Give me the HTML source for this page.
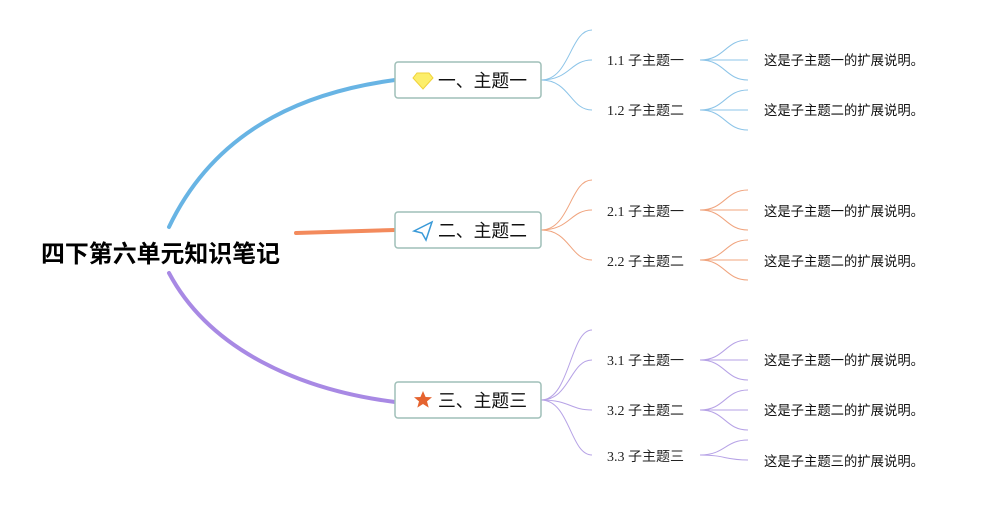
<!DOCTYPE html>
<html><head><meta charset="utf-8"><style>
body{margin:0;background:#fff;width:992px;height:500px;overflow:hidden}
text{font-family:"Liberation Sans","Noto Sans CJK SC",sans-serif}
.s{font-family:"Liberation Serif","Noto Sans CJK SC",serif;font-size:13.6px;fill:#222}
.d{font-size:13.6px;fill:#111}
.t{font-size:18px;fill:#111}
</style></head><body>
<svg width="992" height="500" xmlns="http://www.w3.org/2000/svg">
<g fill="none" stroke-linecap="round">
<path d="M169 227 C 220 120, 320 90, 395 80" stroke="#68b4e4" stroke-width="4"/>
<path d="M296 233 L395 230" stroke="#f38a5c" stroke-width="4"/>
<path d="M169 273 C 210 350, 300 390, 395 402" stroke="#a889e4" stroke-width="4"/>
</g>
<g fill="none" stroke="#8cc4e8" stroke-width="1">
<path d="M541 80 C 570 80, 570 30, 592 30"/><path d="M541 80 C 570 80, 570 60, 592 60"/><path d="M541 80 C 570 80, 570 110, 592 110"/>
<path d="M700 60 C 725 60, 725 40, 748 40"/><path d="M700 60 L748 60"/><path d="M700 60 C 725 60, 725 80, 748 80"/>
<path d="M700 110 C 725 110, 725 90, 748 90"/><path d="M700 110 L748 110"/><path d="M700 110 C 725 110, 725 130, 748 130"/>
</g>
<g fill="none" stroke="#f0a47e" stroke-width="1">
<path d="M541 230 C 570 230, 570 180, 592 180"/><path d="M541 230 C 570 230, 570 210, 592 210"/><path d="M541 230 C 570 230, 570 260, 592 260"/>
<path d="M700 210 C 725 210, 725 190, 748 190"/><path d="M700 210 L748 210"/><path d="M700 210 C 725 210, 725 230, 748 230"/>
<path d="M700 260 C 725 260, 725 240, 748 240"/><path d="M700 260 L748 260"/><path d="M700 260 C 725 260, 725 280, 748 280"/>
</g>
<g fill="none" stroke="#b6a2e6" stroke-width="1">
<path d="M541 400 C 570 400, 570 330, 592 330"/><path d="M541 400 C 570 400, 570 360, 592 360"/><path d="M541 400 C 570 400, 570 410, 592 410"/><path d="M541 400 C 570 400, 570 455, 592 455"/>
<path d="M700 360 C 725 360, 725 340, 748 340"/><path d="M700 360 L748 360"/><path d="M700 360 C 725 360, 725 380, 748 380"/>
<path d="M700 410 C 725 410, 725 390, 748 390"/><path d="M700 410 L748 410"/><path d="M700 410 C 725 410, 725 430, 748 430"/>
<path d="M700 455 C 725 455, 725 440, 748 440"/><path d="M700 455 C 725 455, 725 460, 748 460"/>
</g>
<text x="41" y="262" font-size="24" font-weight="bold" fill="#000" textLength="239" lengthAdjust="spacingAndGlyphs">四下第六单元知识笔记</text>
<g fill="#fff" stroke="#9fbfb8" stroke-width="1.5">
<rect x="395" y="62" width="146" height="36" rx="3"/>
<rect x="395" y="212" width="146" height="36" rx="3"/>
<rect x="395" y="382" width="146" height="36" rx="3"/>
</g>
<path d="M417 73 L429 73 L433 78 L423 89 L413 78 Z" fill="#fcee6a" stroke="#f0d23a"/>
<path d="M414 231 L432 222 L426 240 L422 233 Z" fill="none" stroke="#3a9ad8" stroke-width="1.5"/>
<path d="M423 391 L425.6 397 L432 397.3 L427 401.4 L428.7 407.6 L423 404 L417.3 407.6 L419 401.4 L414 397.3 L420.4 397 Z" fill="#e5632f"/>
<text class="t" x="438" y="87" textLength="89" lengthAdjust="spacingAndGlyphs">一、主题一</text>
<text class="t" x="438" y="237" textLength="89" lengthAdjust="spacingAndGlyphs">二、主题二</text>
<text class="t" x="438" y="407" textLength="89" lengthAdjust="spacingAndGlyphs">三、主题三</text>
<text class="s" x="607" y="65" textLength="77" lengthAdjust="spacingAndGlyphs">1.1 子主题一</text>
<text class="s" x="607" y="115" textLength="77" lengthAdjust="spacingAndGlyphs">1.2 子主题二</text>
<text class="s" x="607" y="216" textLength="77" lengthAdjust="spacingAndGlyphs">2.1 子主题一</text>
<text class="s" x="607" y="266" textLength="77" lengthAdjust="spacingAndGlyphs">2.2 子主题二</text>
<text class="s" x="607" y="365" textLength="77" lengthAdjust="spacingAndGlyphs">3.1 子主题一</text>
<text class="s" x="607" y="415" textLength="77" lengthAdjust="spacingAndGlyphs">3.2 子主题二</text>
<text class="s" x="607" y="461" textLength="77" lengthAdjust="spacingAndGlyphs">3.3 子主题三</text>
<text class="d" x="764" y="65" textLength="160" lengthAdjust="spacingAndGlyphs">这是子主题一的扩展说明。</text>
<text class="d" x="764" y="115" textLength="160" lengthAdjust="spacingAndGlyphs">这是子主题二的扩展说明。</text>
<text class="d" x="764" y="216" textLength="160" lengthAdjust="spacingAndGlyphs">这是子主题一的扩展说明。</text>
<text class="d" x="764" y="266" textLength="160" lengthAdjust="spacingAndGlyphs">这是子主题二的扩展说明。</text>
<text class="d" x="764" y="365" textLength="160" lengthAdjust="spacingAndGlyphs">这是子主题一的扩展说明。</text>
<text class="d" x="764" y="415" textLength="160" lengthAdjust="spacingAndGlyphs">这是子主题二的扩展说明。</text>
<text class="d" x="764" y="466" textLength="160" lengthAdjust="spacingAndGlyphs">这是子主题三的扩展说明。</text>
</svg>
</body></html>
